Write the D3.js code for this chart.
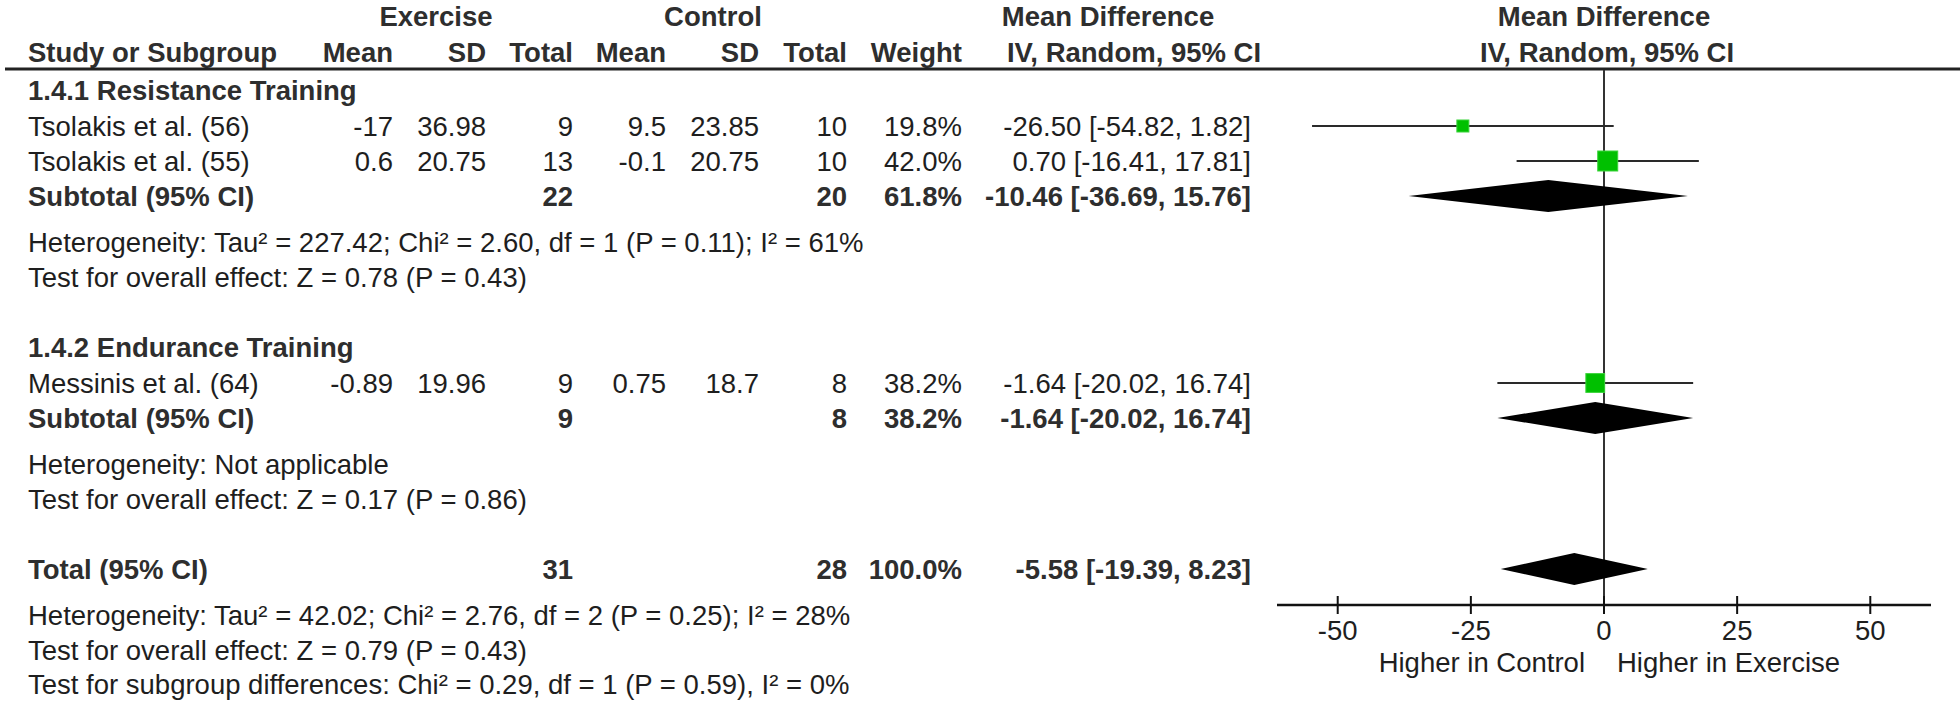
<!DOCTYPE html>
<html>
<head>
<meta charset="utf-8">
<script src="https://cdn.jsdelivr.net/npm/d3@7"></script>
<style>
  html, body { margin: 0; padding: 0; background: #fff; }
  svg { display: block; }
  text { font-family: "Liberation Sans", Arial, Helvetica, sans-serif; fill: #1e1e1e; }
  text.b { fill: #2e2e2e; }
</style>
</head>
<body>
<svg id="chart" width="1960" height="703"></svg>
<script>
// ---------------- data ----------------
const studyNames = ["Tsolakis et al. (56)", "Tsolakis et al. (55)", "Messinis et al. (64)"];
const studyGroup = [0, 0, 1];
const exMean = ["-17", "0.6", "-0.89"];
const exSD = ["36.98", "20.75", "19.96"];
const exN = [9, 13, 9];
const ctMean = ["9.5", "-0.1", "0.75"];
const ctSD = ["23.85", "20.75", "18.7"];
const ctN = [10, 10, 8];
const weights = [19.8, 42.0, 38.2];
const md = [-26.50, 0.70, -1.64];
const mdLo = [-54.82, -16.41, -20.02];
const mdHi = [1.82, 17.81, 16.74];

const groupNames = ["1.4.1 Resistance Training", "1.4.2 Endurance Training"];
const subExN = [22, 9];
const subCtN = [20, 8];
const subWeight = [61.8, 38.2];
const subMd = [-10.46, -1.64];
const subLo = [-36.69, -20.02];
const subHi = [15.76, 16.74];
const subHet = [
  "Heterogeneity: Tau\u00B2 = 227.42; Chi\u00B2 = 2.60, df = 1 (P = 0.11); I\u00B2 = 61%",
  "Heterogeneity: Not applicable"
];
const subTest = [
  "Test for overall effect: Z = 0.78 (P = 0.43)",
  "Test for overall effect: Z = 0.17 (P = 0.86)"
];

const totExN = 31, totCtN = 28, totWeight = 100.0;
const totMd = -5.58, totLo = -19.39, totHi = 8.23;
const totNotes = [
  "Heterogeneity: Tau\u00B2 = 42.02; Chi\u00B2 = 2.76, df = 2 (P = 0.25); I\u00B2 = 28%",
  "Test for overall effect: Z = 0.79 (P = 0.43)",
  "Test for subgroup differences: Chi\u00B2 = 0.29, df = 1 (P = 0.59), I\u00B2 = 0%"
];

const axisTicks = [-50, -25, 0, 25, 50];
const favourLeft = "Higher in Control";
const favourRight = "Higher in Exercise";

// ---------------- layout ----------------
const svg = d3.select("#chart");
const FS = 27.5;
const col = { name: 28, exMean: 393, exSD: 486, exN: 573, ctMean: 666, ctSD: 759, ctN: 847, w: 962, ci: 1251 };

const x = d3.scaleLinear().domain([-61.4, 61.4]).range([1277, 1931]);
const axisY = 605;
const headerLineY = 69;

const fmtCI = (m, l, h) => `${m.toFixed(2)} [${l.toFixed(2)}, ${h.toFixed(2)}]`;
const fmtW = w => w.toFixed(1) + "%";

function txt(xp, yp, s, anchor, bold, size) {
  svg.append("text")
    .attr("class", bold ? "b" : null)
    .attr("x", xp).attr("y", yp)
    .attr("text-anchor", anchor || "start")
    .attr("font-size", size || FS)
    .attr("font-weight", bold ? "bold" : "normal")
    .text(s);
}

// headers
txt(436, 26, "Exercise", "middle", true);
txt(713, 26, "Control", "middle", true);
txt(1108, 26, "Mean Difference", "middle", true);
txt(x(0), 26, "Mean Difference", "middle", true);
txt(col.name, 62, "Study or Subgroup", "start", true);
txt(col.exMean, 62, "Mean", "end", true);
txt(col.exSD, 62, "SD", "end", true);
txt(col.exN, 62, "Total", "end", true);
txt(col.ctMean, 62, "Mean", "end", true);
txt(col.ctSD, 62, "SD", "end", true);
txt(col.ctN, 62, "Total", "end", true);
txt(col.w, 62, "Weight", "end", true);
txt(1134, 62, "IV, Random, 95% CI", "middle", true);
txt(x(0) + 3, 62, "IV, Random, 95% CI", "middle", true);

svg.append("line").attr("x1", 5).attr("x2", 1960).attr("y1", headerLineY).attr("y2", headerLineY)
  .attr("stroke", "#222").attr("stroke-width", 2.8);

// zero line
svg.append("line").attr("x1", x(0)).attr("x2", x(0)).attr("y1", headerLineY + 1).attr("y2", axisY)
  .attr("stroke", "#333").attr("stroke-width", 2);

const sqScale = d3.scaleLinear().domain([Math.sqrt(19.8), Math.sqrt(42)]).range([12, 20]);

function diamond(m, l, h, cy) {
  const hh = 16;
  svg.append("path")
    .attr("d", `M${x(l)},${cy} L${x(m)},${cy - hh} L${x(h)},${cy} L${x(m)},${cy + hh} Z`)
    .attr("fill", "#000");
}

// rows
const groupStart = [100, 357];
groupNames.forEach((g, gi) => {
  let y = groupStart[gi];
  txt(col.name, y, g, "start", true);
  y += 36;
  studyNames.forEach((s, i) => {
    if (studyGroup[i] !== gi) return;
    txt(col.name, y, s);
    txt(col.exMean, y, exMean[i], "end");
    txt(col.exSD, y, exSD[i], "end");
    txt(col.exN, y, exN[i], "end");
    txt(col.ctMean, y, ctMean[i], "end");
    txt(col.ctSD, y, ctSD[i], "end");
    txt(col.ctN, y, ctN[i], "end");
    txt(col.w, y, fmtW(weights[i]), "end");
    txt(col.ci, y, fmtCI(md[i], mdLo[i], mdHi[i]), "end");
    const cy = y - 10;
    svg.append("line").attr("x1", x(mdLo[i])).attr("x2", x(mdHi[i])).attr("y1", cy).attr("y2", cy)
      .attr("stroke", "#2a2a2a").attr("stroke-width", 2);
    const s2 = sqScale(Math.sqrt(weights[i]));
    svg.append("rect").attr("x", x(md[i]) - s2 / 2).attr("y", cy - s2 / 2)
      .attr("width", s2).attr("height", s2)
      .attr("fill", "#00C000").attr("stroke", "#3ad43a").attr("stroke-width", 1);
    y += 35;
  });
  txt(col.name, y, "Subtotal (95% CI)", "start", true);
  txt(col.exN, y, subExN[gi], "end", true);
  txt(col.ctN, y, subCtN[gi], "end", true);
  txt(col.w, y, fmtW(subWeight[gi]), "end", true);
  txt(col.ci, y, fmtCI(subMd[gi], subLo[gi], subHi[gi]), "end", true);
  diamond(subMd[gi], subLo[gi], subHi[gi], y - 10);
  y += 46;
  txt(col.name, y, subHet[gi]);
  y += 35;
  txt(col.name, y, subTest[gi]);
});

// total
let ty = 579;
txt(col.name, ty, "Total (95% CI)", "start", true);
txt(col.exN, ty, totExN, "end", true);
txt(col.ctN, ty, totCtN, "end", true);
txt(col.w, ty, fmtW(totWeight), "end", true);
txt(col.ci, ty, fmtCI(totMd, totLo, totHi), "end", true);
diamond(totMd, totLo, totHi, ty - 10);
ty += 46;
totNotes.forEach(n => { txt(col.name, ty, n); ty += 34.5; });

// axis
const ax = svg.append("g").attr("transform", `translate(0,${axisY})`);
ax.append("line").attr("x1", x.range()[0]).attr("x2", x.range()[1]).attr("stroke", "#111").attr("stroke-width", 2.6);
ax.selectAll("line.tick").data(axisTicks).enter().append("line")
  .attr("class", "tick")
  .attr("x1", d => x(d)).attr("x2", d => x(d)).attr("y1", -9).attr("y2", 9)
  .attr("stroke", "#111").attr("stroke-width", 2);
ax.selectAll("text.tl").data(axisTicks).enter().append("text")
  .attr("class", "tl")
  .attr("x", d => x(d)).attr("y", 35)
  .attr("text-anchor", "middle").attr("font-size", FS)
  .text(d => d);
txt(x(0) - 19, axisY + 67, favourLeft, "end");
txt(x(0) + 13, axisY + 67, favourRight, "start");
</script>
</body>
</html>
